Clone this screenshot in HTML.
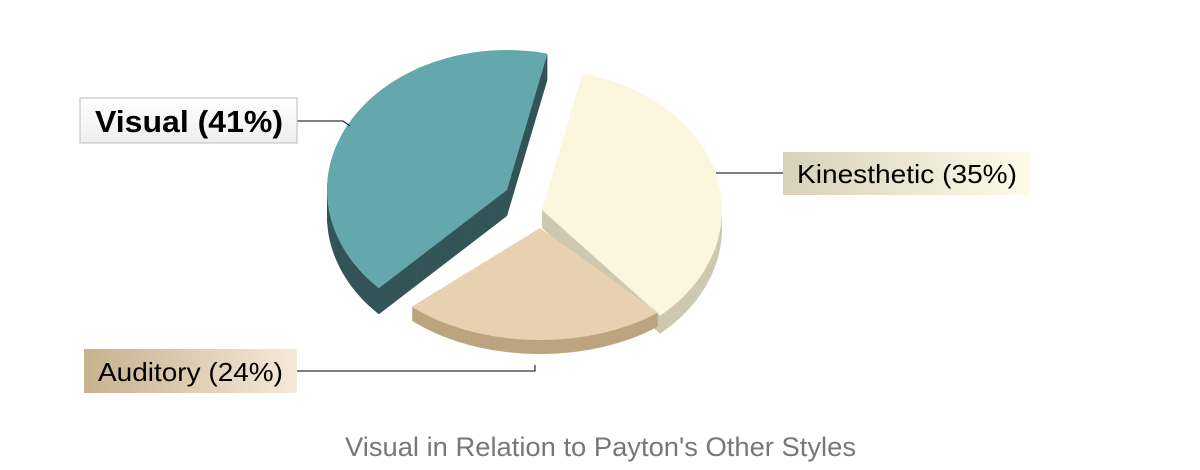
<!DOCTYPE html>
<html><head><meta charset="utf-8"><style>
html,body{margin:0;padding:0;background:#fff;width:1200px;height:470px;overflow:hidden}
svg{display:block;font-family:"Liberation Sans",sans-serif}
</style></head><body>
<svg id="chart" width="1200" height="470" viewBox="0 0 1200 470">
<defs>
<linearGradient id="kg" x1="0" x2="1"><stop offset="0" stop-color="#d8d1b8"/><stop offset="1" stop-color="#fffbe9"/></linearGradient>
<linearGradient id="ag" x1="0" x2="1"><stop offset="0" stop-color="#c7b18e"/><stop offset="1" stop-color="#f5e9d8"/></linearGradient>
<linearGradient id="vg" x1="0" x2="0" y1="0" y2="1"><stop offset="0" stop-color="#ffffff"/><stop offset="1" stop-color="#eeeeee"/></linearGradient>
</defs>
<g id="slices"></g>
<g>
<polyline points="297,121 343,121 350,126" fill="none" stroke="#000" stroke-width="1"/>
<rect x="80" y="98" width="217" height="45" fill="url(#vg)" stroke="#bbb"/>
<text x="95" y="132" textLength="188" lengthAdjust="spacingAndGlyphs" font-size="31" font-weight="bold" fill="#000">Visual (41%)</text>
<polyline points="716,173 783,173" fill="none" stroke="#000"/>
<rect x="783" y="152" width="247" height="43" fill="url(#kg)"/>
<text x="797" y="183" textLength="220" lengthAdjust="spacingAndGlyphs" font-size="26" fill="#000">Kinesthetic (35%)</text>
<polyline points="297,371 535,371 535,365" fill="none" stroke="#000"/>
<rect x="84" y="349" width="213" height="44" fill="url(#ag)"/>
<text x="98" y="381" textLength="185" lengthAdjust="spacingAndGlyphs" font-size="26" fill="#000">Auditory (24%)</text>
</g>
<text x="345" y="456" textLength="511" lengthAdjust="spacingAndGlyphs" font-size="27" fill="#777">Visual in Relation to Payton's Other Styles</text>
</svg>
<script>
const categories = ["Kinesthetic", "Auditory", "Visual"];
const values = [35, 24, 41];
const startDeg = 13;
const geo = [
 {cx:542, cy:210, ry:140, top:"#fdf6de", side:"#cfc8b0", d:18},
 {cx:540, cy:228, ry:112, top:"#e8d1b0", side:"#bba47f", d:14},
 {cx:507, cy:190, ry:140, top:"#64a8ad", side:"#335558", d:26}
];
const rx = 180;
const NS = "http://www.w3.org/2000/svg";
const g = document.getElementById('slices');
const total = values.reduce((a,b)=>a+b,0);
function pt(s,a,dy){const r=a*Math.PI/180;return [s.cx+rx*Math.sin(r), s.cy-s.ry*Math.cos(r)+dy];}
function path(s,a0,a1,dy){
  let p=`M${s.cx},${s.cy+dy}`;
  for(let a=a0;a<=a1+0.001;a+=(a1-a0)/60){const q=pt(s,a,dy);p+=`L${q[0].toFixed(1)},${q[1].toFixed(1)}`;}
  return p+'Z';
}
let angles=[];let acc=startDeg;
values.forEach(v=>{const a0=acc;acc+=v/total*360;angles.push([a0,acc]);});
[2,0,1].forEach(i=>{
  const s=geo[i];const [a0,a1]=angles[i];
  const grp=document.createElementNS(NS,'g');
  
  
  for(let t=s.d;t>0;t-=1){
    const e=document.createElementNS(NS,'path');
    e.setAttribute('d',path(s,a0,a1,t));
    e.setAttribute('fill',s.side);
    
    
    grp.appendChild(e);
  }
  const top=document.createElementNS(NS,'path');
  top.setAttribute('d',path(s,a0,a1,0));
  top.setAttribute('fill',s.top);
  
  
  grp.appendChild(top);
  g.appendChild(grp);
});
</script>
</body></html>
